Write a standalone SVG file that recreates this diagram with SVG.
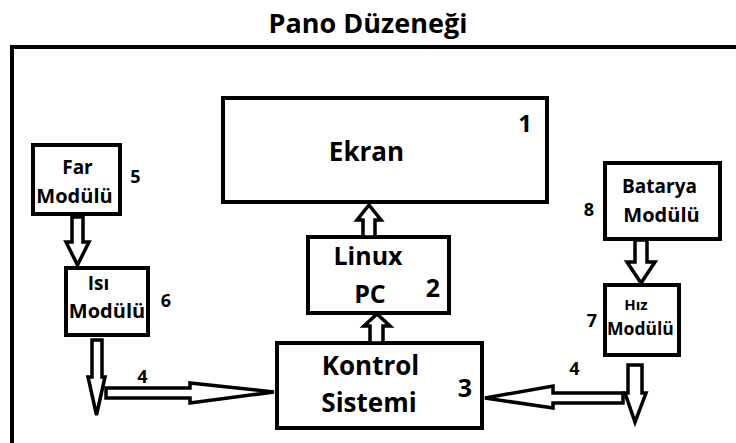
<svg xmlns="http://www.w3.org/2000/svg" width="736" height="443" viewBox="0 0 736 443">
<style>
text{font-family:"Open Sans","Liberation Sans",sans-serif;font-weight:bold;fill:#000;text-anchor:middle}
.box{fill:#fff;stroke:#000;stroke-width:4}
.arr{fill:#fff;stroke:#000;stroke-width:3.5;stroke-linejoin:miter}
</style>
<rect width="736" height="443" fill="#fff"/>
<text x="368" y="33" font-size="27">Pano Düzeneği</text>
<path d="M12,445 V47 H740" fill="none" stroke="#000" stroke-width="4"/>
<g id="ekran">
<rect class="box" x="223" y="98" width="324" height="104"/>
<text x="366.5" y="161" font-size="26">Ekran</text>
<text x="525" y="132" font-size="24">1</text>
</g>
<g id="linux-pc">
<rect class="box" x="308" y="237" width="141" height="76"/>
<text x="368" y="265" font-size="25">Linux</text>
<text x="370" y="303" font-size="25">PC</text>
<text x="433" y="297" font-size="25">2</text>
</g>
<g id="kontrol-sistemi">
<rect class="box" x="277" y="343" width="205" height="85"/>
<text x="370.5" y="375" font-size="26">Kontrol</text>
<text x="369" y="412" font-size="26">Sistemi</text>
<text x="465" y="397" font-size="25">3</text>
</g>
<g id="far-modulu">
<rect class="box" x="33" y="145" width="87" height="69"/>
<text x="77.5" y="174" font-size="19">Far</text>
<text x="74.5" y="203" font-size="20">Modülü</text>
<text x="135.5" y="183" font-size="18">5</text>
</g>
<g id="isi-modulu">
<rect class="box" x="66" y="268" width="82" height="67"/>
<text x="98.5" y="290" font-size="19">Isı</text>
<text x="107" y="318" font-size="20">Modülü</text>
<text x="166" y="307" font-size="18">6</text>
</g>
<g id="batarya-modulu">
<rect class="box" x="605" y="163" width="115" height="76"/>
<text x="659.5" y="193" font-size="19">Batarya</text>
<text x="661.5" y="222" font-size="20">Modülü</text>
<text x="589" y="216" font-size="18">8</text>
</g>
<g id="hiz-modulu">
<rect class="box" x="605" y="285" width="74" height="70"/>
<text x="636" y="310" font-size="15">Hız</text>
<text x="640.5" y="335" font-size="17.5">Modülü</text>
<text x="592" y="327" font-size="18">7</text>
</g>
<g id="connectors">
<polygon class="arr" points="72,217 83,217 83,242 89,242 77.5,265 66,242 72,242"/>
<polygon class="arr" points="92,340 102,340 102,377 105,377 96.5,415 88,377 92,377"/>
<polygon class="arr" points="106,388 190,388 190,383 274,392 190,403 190,398 106,398"/>
<polygon class="arr" points="363,237 375,237 375,220 381,220 369,205 357,220 363,220"/>
<polygon class="arr" points="370,343 383,343 383,326 390,326 377,314 364,326 370,326"/>
<polygon class="arr" points="623,393 623,403 553,403 553,408 485,398 553,386 553,393"/>
<polygon class="arr" points="628,365 642,365 642,393 646,393 635,422 625,393 628,393"/>
<polygon class="arr" points="635,240 647,240 647,262 655,262 641,283 627,262 635,262"/>
<text x="142.5" y="383" font-size="18">4</text>
<text x="574.5" y="375" font-size="18">4</text>
</g>
</svg>
